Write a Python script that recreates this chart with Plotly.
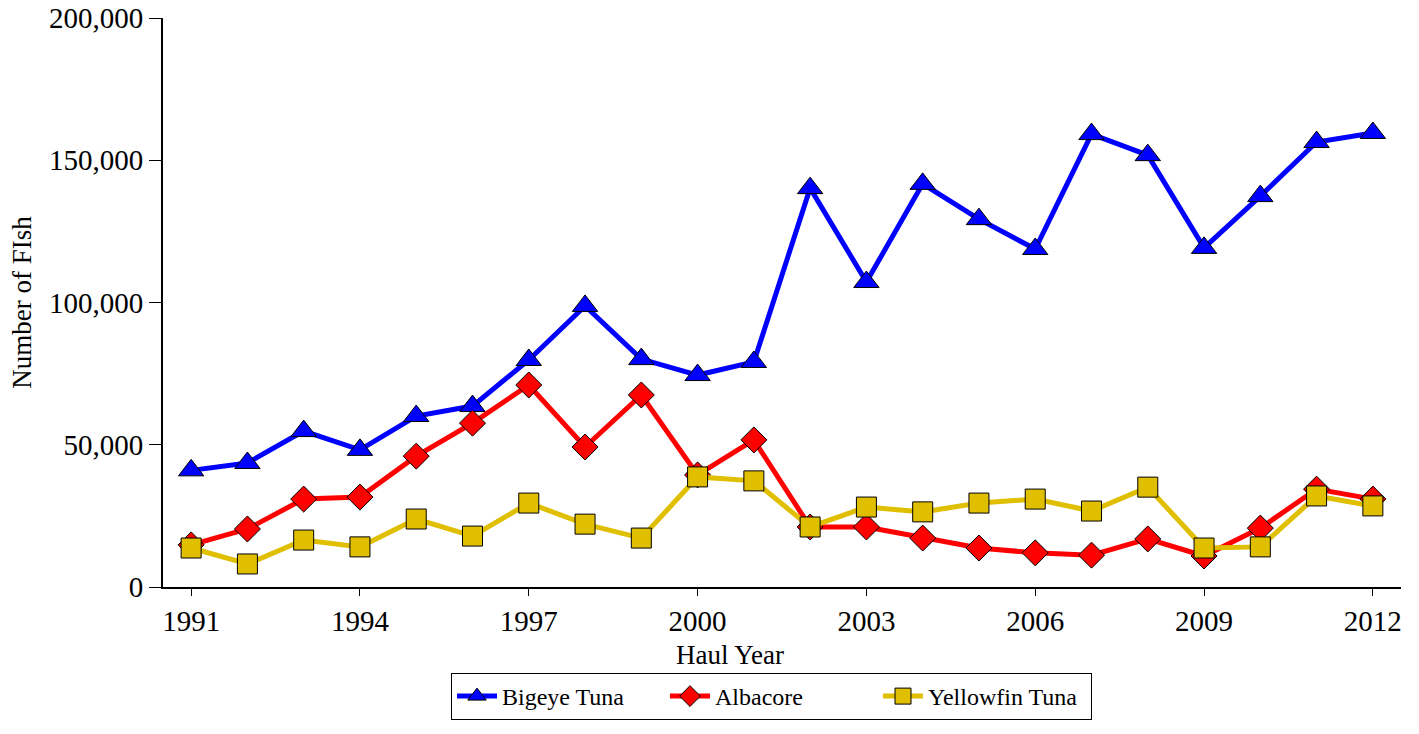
import plotly.graph_objects as go

years = list(range(1991, 2013))
bigeye = [41000, 43600, 54800, 48200, 60100, 63600, 79800, 98800, 80100, 74500, 79100,
          140200, 107200, 141700, 129300, 118800, 159200, 151800, 119200, 137400, 156400, 159600]
albacore = [14800, 20400, 30900, 31600, 46000, 57600, 71000, 49200, 67500, 39400, 51700,
            21100, 21100, 17200, 13700, 12000, 11200, 16900, 10900, 20700, 34400, 30900]
yellowfin = [13700, 8100, 16500, 14100, 23900, 17900, 29500, 22100, 17200, 38700, 37300,
             21100, 28100, 26400, 29500, 30900, 26700, 35100, 13700, 14100, 32000, 28500]

series = [
    ("Bigeye Tuna", bigeye, "#0000FF", "triangle-up", 22),
    ("Albacore", albacore, "#FF0000", "diamond", 20),
    ("Yellowfin Tuna", yellowfin, "#E0BE00", "square", 20),
]

font = "Liberation Serif, Times New Roman, serif"
fig = go.Figure()
for name, vals, color, sym, size in series:
    fig.add_trace(go.Scatter(
        x=years, y=vals, name=name, mode="lines+markers",
        line=dict(color=color, width=5),
        marker=dict(symbol=sym, size=size, color=color, line=dict(color="black", width=1)),
    ))

W, H = 1419, 734
L, R, T, B = 163, 18, 18, 147
pw, ph = W - L - R, H - T - B
y0 = H - B  # pixel row of the x axis

fig.update_layout(
    width=W, height=H,
    margin=dict(l=L, r=R, t=T, b=B, autoexpand=False),
    plot_bgcolor="white", paper_bgcolor="white",
    font=dict(family=font, color="black"),
    showlegend=True,
    legend=dict(
        orientation="h", x=(451 - L) / pw, xanchor="left",
        y=(y0 - 673) / ph, yanchor="top",
        bordercolor="black", borderwidth=1,
        font=dict(size=24, family=font),
        entrywidth=158, entrywidthmode="pixels",
        itemwidth=40,
    ),
    xaxis=dict(
        range=[1990.5, 2012.5], tickvals=[1991, 1994, 1997, 2000, 2003, 2006, 2009, 2012],
        showgrid=False, zeroline=False, showline=True, linecolor="black", linewidth=2,
        ticks="outside", ticklen=7, tickcolor="black", automargin=False,
        tickfont=dict(size=29, family=font), ticklabeloverflow="allow",
    ),
    yaxis=dict(
        range=[0, 200000], tickvals=[0, 50000, 100000, 150000, 200000],
        tickformat=",d", automargin=False, ticklabeloverflow="allow",
        showgrid=False, zeroline=False, showline=True, linecolor="black", linewidth=2,
        ticks="outside", ticklen=12, tickcolor="black",
        tickfont=dict(size=29, family=font),
        title=dict(text="Number of FIsh", font=dict(size=27, family=font), standoff=10),
    ),
    annotations=[dict(
        text="Haul Year", x=(730 - L) / pw, y=(y0 - 655) / ph,
        xref="paper", yref="paper", showarrow=False,
        font=dict(size=27, family=font), xanchor="center", yanchor="middle",
    )],
)

fig.write_html("out.html", config={"displayModeBar": False},
               post_script="document.body.style.margin='0';")
